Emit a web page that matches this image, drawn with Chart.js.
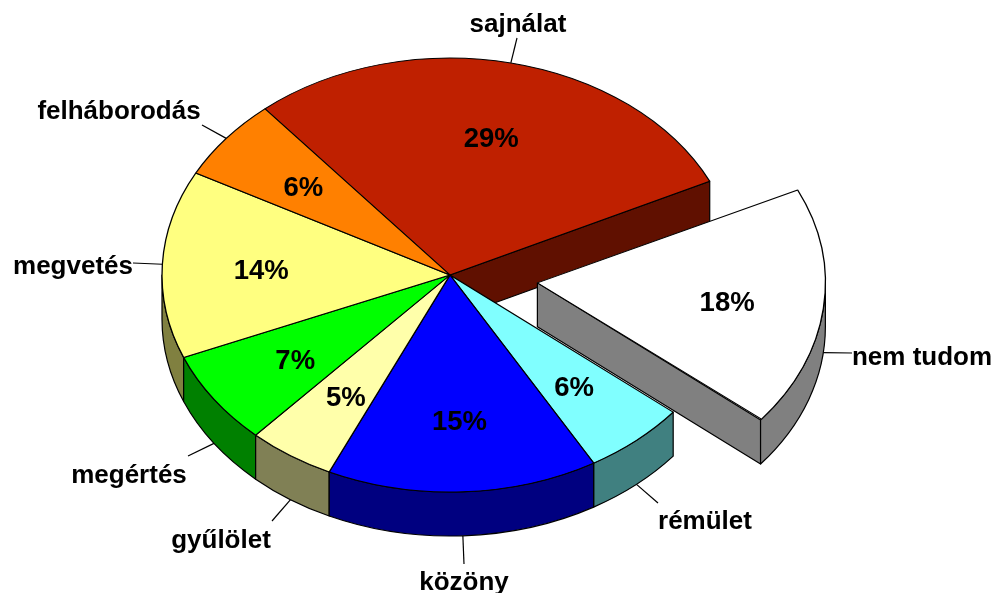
<!DOCTYPE html>
<html><head><meta charset="utf-8">
<style>html,body{margin:0;padding:0;background:#fff}#w{width:997px;height:593px;position:relative}</style>
<script src="https://cdn.jsdelivr.net/npm/chart.js@4"></script></head>
<body><div id="w"><canvas id="c" width="997" height="593"></canvas></div>
<script>
const categories = ['sajnálat','nem tudom','rémület','közöny','gyűlölet','megértés','megvetés','felháborodás'];
const shares = [29,18,5.8,15.2,4.9,7,14,6.1];
const topColors = ['#BF2000','#FFFFFF','#80FFFF','#0000FF','#FFFFAA','#00FF00','#FFFF80','#FF8000'];
const wallColors = ['#601000','#808080','#408080','#000080','#808055','#008000','#808040','#804000'];
const explode = [0,88,0,0,0,0,0,0];
const labelSpots = [[518,25],[922,358],[705,522],[464,583],[221,541],[129,476],[73,267],[119,112]];
const leaderEnds = [[517,38],[852,353],[658,503],[464,564],[272,521],[188,456],[133,263],[202,125]];
const R = 288, SQ = 217/288, DEPTH = 44, PCT_R = 0.66;

function squash(ctx,a){ctx.translate(a.x0,a.y0);ctx.scale(1,SQ);ctx.translate(-a.x0,-a.y0);}
function center(a,i){const m=(a.startAngle+a.endAngle)/2,o=explode[i];
  return {x:a.x0+Math.cos(m)*o,y:a.y0+Math.sin(m)*o*SQ,m};}
const pie3d={id:'pie3d',
  afterDatasetUpdate(chart){
    chart.getDatasetMeta(0).data.forEach((a,i)=>{
      a.x0=a.x;a.y0=a.y;
      const off=explode[i];
      if(off){const fix=1-Math.sin(Math.min(Math.PI,a.endAngle-a.startAngle));a.outerRadius=R-off*fix;}
    });
  },
  beforeDatasetDraw(chart){
    const ctx=chart.ctx,arcs=chart.getDatasetMeta(0).data;
    ctx.lineWidth=1.2;ctx.strokeStyle='#000';ctx.lineJoin='round';
    // leader lines lie behind the pie
    arcs.forEach((a,i)=>{
      const c=center(a,i),px=c.x+Math.cos(c.m)*R,py=c.y+Math.sin(c.m)*R*SQ+(Math.sin(c.m)>0.05?DEPTH:0);
      ctx.beginPath();ctx.moveTo(px,py);ctx.lineTo(leaderEnds[i][0],leaderEnds[i][1]);ctx.stroke();
    });
    // cut faces and rims, back to front
    const order=[0,1,2,6,5,4,3];
    order.forEach(i=>{
      const a=arcs[i],c=center(a,i);
      ctx.fillStyle=wallColors[i];
      const pt=t=>[c.x+Math.cos(t)*R,c.y+Math.sin(t)*R*SQ];
      // radial cut face
      if(i<2){const p=pt(a.endAngle);
        ctx.beginPath();ctx.moveTo(c.x,c.y);ctx.lineTo(p[0],p[1]);ctx.lineTo(p[0],p[1]+DEPTH);ctx.lineTo(c.x,c.y+DEPTH);ctx.closePath();ctx.fill();ctx.stroke();}
      // rim
      let s=a.startAngle,e=a.endAngle;
      const two=Math.PI*2;
      while(e<=0){s+=two;e+=two;}
      while(s>=two){s-=two;e-=two;}
      const lo=Math.max(s,0),hi=Math.min(e,Math.PI);
      if(hi>lo){
        ctx.beginPath();ctx.ellipse(c.x,c.y,R,R*SQ,0,lo,hi);
        ctx.ellipse(c.x,c.y+DEPTH,R,R*SQ,0,hi,lo,true);ctx.closePath();ctx.fill();ctx.stroke();
      }
    });
    ctx.save();squash(ctx,arcs[0]);
  },
  afterDatasetDraw(chart){
    const ctx=chart.ctx,arcs=chart.getDatasetMeta(0).data;
    ctx.restore();
    ctx.fillStyle='#000';ctx.textAlign='center';ctx.textBaseline='middle';
    arcs.forEach((a,i)=>{
      const c=center(a,i);
      ctx.font='bold 27.5px "Liberation Sans", Arial, sans-serif';
      ctx.fillText(Math.round(shares[i])+'%',c.x+Math.cos(c.m)*R*PCT_R+1,c.y+Math.sin(c.m)*R*SQ*PCT_R+4);
      ctx.font='bold 26px "Liberation Sans", Arial, sans-serif';
      ctx.fillText(categories[i],labelSpots[i][0],labelSpots[i][1]);
    });
  }
};
new Chart(document.getElementById('c'),{
  type:'pie',
  data:{labels:categories,datasets:[{data:shares,backgroundColor:topColors,borderColor:'#000',borderWidth:1.3,offset:explode.map(v=>v*4),clip:false}]},
  options:{responsive:false,animation:false,rotation:-40,radius:R,
    layout:{padding:{left:0,top:0,right:97,bottom:43}},
    events:[],
    plugins:{legend:{display:false},tooltip:{enabled:false}}},
  plugins:[pie3d]
});
</script></body></html>
